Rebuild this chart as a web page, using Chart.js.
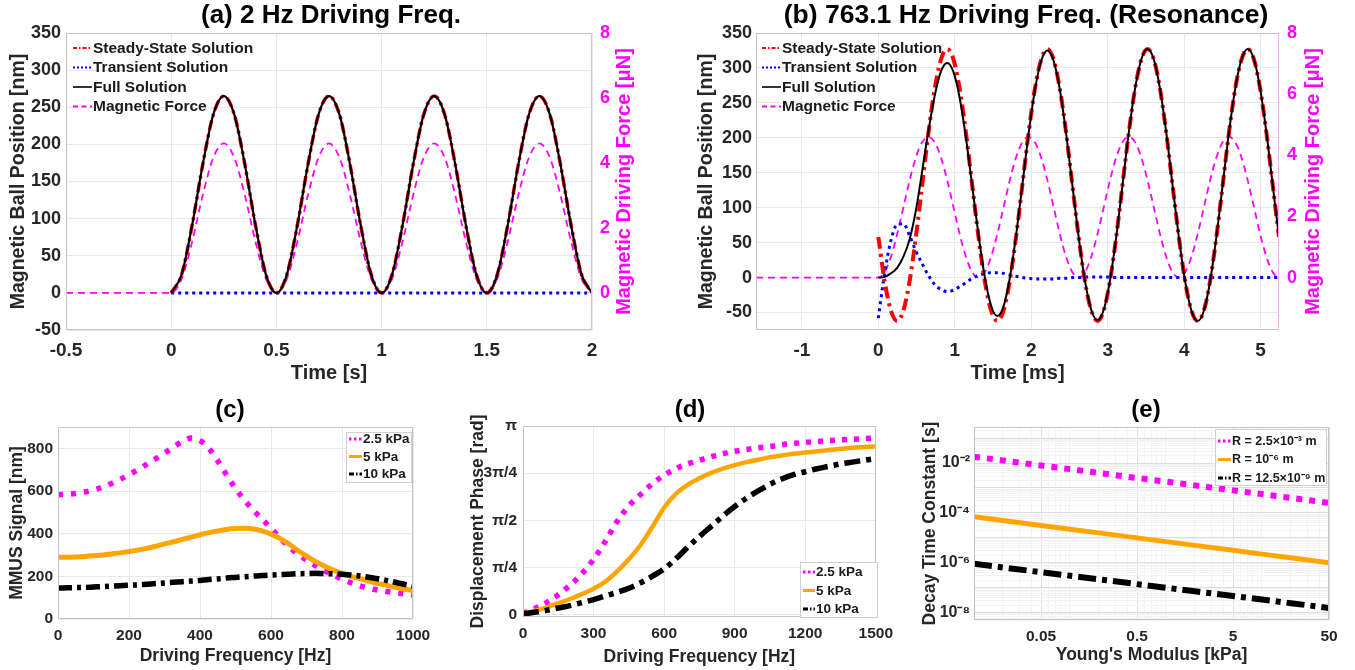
<!DOCTYPE html>
<html>
<head>
<meta charset="utf-8">
<script src="https://cdn.jsdelivr.net/npm/chart.js@4.4.1/dist/chart.umd.min.js"></script>
<style>
html, body { margin:0; padding:0; background:#ffffff; }
body { position:relative; width:1355px; height:670px; overflow:hidden; }
canvas { position:absolute; }
</style>
</head>
<body>
<canvas id="chartA" width="680" height="390" style="left:0px;top:0px;width:680px;height:390px"></canvas>
<canvas id="chartB" width="675" height="390" style="left:680px;top:0px;width:675px;height:390px"></canvas>
<canvas id="chartC" width="450" height="285" style="left:0px;top:385px;width:450px;height:285px"></canvas>
<canvas id="chartD" width="450" height="285" style="left:450px;top:385px;width:450px;height:285px"></canvas>
<canvas id="chartE" width="455" height="285" style="left:900px;top:385px;width:455px;height:285px"></canvas>
<script>
// ---------------- (a) 2 Hz driving frequency ----------------
const timeA = [0,0.05,0.1,0.15,0.2,0.25,0.3,0.35,0.4,0.45,0.5,0.55,0.6,0.65,0.7,0.75,0.8,0.85,0.9,0.95,1,1.05,1.1,1.15,1.2,1.25,1.3,1.35,1.4,1.45,1.5,1.55,1.6,1.65,1.7,1.75,1.8,1.85,1.9,1.95,2];
const steadyA = [0,25,92,173,240,265,240,173,92,25,0,25,92,173,240,265,240,173,92,25,0,25,92,173,240,265,240,173,92,25,0,25,92,173,240,265,240,173,92,25,0];
const transientA = [0,0,0,0,0,0,0,0,0,0,0,0,0,0,0,0,0,0,0,0,0,0,0,0,0,0,0,0,0,0,0,0,0,0,0,0,0,0,0,0,0];
const fullA = [0,25,92,173,240,265,240,173,92,25,0,25,92,173,240,265,240,173,92,25,0,25,92,173,240,265,240,173,92,25,0,25,92,173,240,265,240,173,92,25,0];
const forceTimeA = [-0.5,0,0.05,0.1,0.15,0.2,0.25,0.3,0.35,0.4,0.45,0.5,0.55,0.6,0.65,0.7,0.75,0.8,0.85,0.9,0.95,1,1.05,1.1,1.15,1.2,1.25,1.3,1.35,1.4,1.45,1.5,1.55,1.6,1.65,1.7,1.75,1.8,1.85,1.9,1.95,2];
const forceA = [0,0,0.44,1.59,3.01,4.16,4.6,4.16,3.01,1.59,0.44,0,0.44,1.59,3.01,4.16,4.6,4.16,3.01,1.59,0.44,0,0.44,1.59,3.01,4.16,4.6,4.16,3.01,1.59,0.44,0,0.44,1.59,3.01,4.16,4.6,4.16,3.01,1.59,0.44,0];
const xTicksA = [-0.5,0,0.5,1,1.5,2];
const yTicksA = [-50,0,50,100,150,200,250,300,350];
const forceTicks = [0,2,4,6,8];

// ---------------- (b) 763.1 Hz driving frequency ----------------
const timeB = [0,0.082,0.164,0.246,0.328,0.409,0.491,0.573,0.655,0.737,0.819,0.901,0.983,1.064,1.146,1.228,
  1.310,1.392,1.474,1.556,1.638,1.719,1.801,1.883,1.965,2.047,2.129,2.211,2.293,2.374,2.456,2.538,
  2.620,2.702,2.784,2.866,2.948,3.029,3.111,3.193,3.275,3.357,3.439,3.521,3.603,3.684,3.766,3.848,
  3.930,4.012,4.094,4.176,4.258,4.339,4.421,4.503,4.585,4.667,4.749,4.831,4.913,4.994,5.076,5.158,5.240];
const steadyB = [58,-5,-47,-62,-47,-5,58,132,207,270,312,327,312,270,207,132,
  58,-5,-47,-62,-47,-5,58,132,207,270,312,327,312,270,207,132,
  58,-5,-47,-62,-47,-5,58,132,207,270,312,327,312,270,207,132,
  58,-5,-47,-62,-47,-5,58,132,207,270,312,327,312,270,207,132,58];
const transientB = [-58,6,53,76,77,60,38,20,3,-10,-17,-20,-18,-13,-7,-1,
  3,6,7,7,6,4,2,0,-1,-2,-2,-2,-2,-1,-1,0,
  0,0.5,1,1,1,0.5,0,0,0,0,0,0,0,0,0,0,
  0,0,0,0,0,0,0,0,0,0,0,0,0,0,0,0,0];
const fullB = [0,1,6,14,30,55,96,152,210,260,295,307,294,257,200,131,
  61,1,-40,-55,-41,-1,60,132,206,268,310,325,310,269,206,132,
  58,-4.5,-46,-61,-46,-4.5,58,132,207,270,312,327,312,270,207,132,
  58,-5,-47,-62,-47,-5,58,132,207,270,312,327,312,270,207,132,58];
const forceTimeB = [-1.6,0,0.082,0.164,0.246,0.328,0.409,0.491,0.573,0.655,0.737,0.819,0.901,0.983,1.064,1.146,1.228,
  1.310,1.392,1.474,1.556,1.638,1.719,1.801,1.883,1.965,2.047,2.129,2.211,2.293,2.374,2.456,2.538,
  2.620,2.702,2.784,2.866,2.948,3.029,3.111,3.193,3.275,3.357,3.439,3.521,3.603,3.684,3.766,3.848,
  3.930,4.012,4.094,4.176,4.258,4.339,4.421,4.503,4.585,4.667,4.749,4.831,4.913,4.994,5.076,5.158,5.240];
const forceB = [0,0,0.175,0.674,1.42,2.3,3.18,3.93,4.43,4.6,4.43,3.93,3.18,2.3,1.42,0.674,0.175,
  0,0.175,0.674,1.42,2.3,3.18,3.93,4.43,4.6,4.43,3.93,3.18,2.3,1.42,0.674,0.175,
  0,0.175,0.674,1.42,2.3,3.18,3.93,4.43,4.6,4.43,3.93,3.18,2.3,1.42,0.674,0.175,
  0,0.175,0.674,1.42,2.3,3.18,3.93,4.43,4.6,4.43,3.93,3.18,2.3,1.42,0.674,0.175,0];
const xTicksB = [-1,0,1,2,3,4,5];
const yTicksB = [-50,0,50,100,150,200,250,300,350];

// ---------------- (c) MMUS signal ----------------
const freqC = [0,25,50,75,100,125,150,175,200,225,250,275,300,325,350,375,400,425,450,475,500,525,550,575,600,625,650,675,700,725,750,775,800,825,850,875,900,925,950,975,1000];
const mmus2_5 = [583,584,588,595,605,618,635,655,677,700,725,751,778,805,832,848,836,800,742,675,612,558,510,468,426,380,340,305,276,250,227,206,187,170,156,145,136,129,123,118,113];
const mmus5 = [290,290,291,293,296,300,305,310,316,323,331,341,352,362,373,384,395,405,413,420,424,425,422,413,398,378,352,322,295,270,249,230,214,200,189,178,167,158,149,141,133];
const mmus10 = [145,146,147,148,150,152,154,156,158,160,163,166,169,172,175,178,181,185,188,192,195,198,201,204,206,208,210,212,213,214,213,212,210,206,202,196,189,181,172,163,155];
const xTicksC = [0,200,400,600,800,1000];
const yTicksC = [0,200,400,600,800];

// ---------------- (d) displacement phase ----------------
const freqD = [0,50,100,150,200,250,300,350,400,450,500,550,600,650,700,750,800,850,900,950,1000,1050,1100,1150,1200,1250,1300,1350,1400,1450,1500];
const phase2_5 = [0.02,0.1,0.2,0.33,0.49,0.68,0.92,1.22,1.55,1.81,2.0,2.18,2.32,2.43,2.51,2.57,2.63,2.68,2.72,2.75,2.78,2.8,2.83,2.85,2.87,2.88,2.9,2.91,2.92,2.93,2.94];
const phase5 = [0.02,0.06,0.12,0.19,0.26,0.34,0.43,0.55,0.72,0.92,1.16,1.46,1.78,2.01,2.16,2.27,2.36,2.43,2.49,2.54,2.58,2.62,2.65,2.68,2.7,2.72,2.74,2.76,2.78,2.79,2.8];
const phase10 = [0.01,0.04,0.07,0.11,0.15,0.2,0.25,0.31,0.37,0.44,0.53,0.64,0.76,0.93,1.12,1.3,1.47,1.64,1.8,1.94,2.06,2.17,2.26,2.33,2.38,2.43,2.47,2.51,2.54,2.57,2.6];
const xTicksD = [0,300,600,900,1200,1500];
const phaseTickPi = [0,0.25,0.5,0.75,1];
const phaseTickLabels = ['0','π/4','π/2','3π/4','π'];

// ---------------- (e) decay time constant ----------------
const modulusE = [0.01,0.02,0.05,0.1,0.2,0.5,1,2,5,10,20,50];
const tauR2_5mm = [1.8e-2,1.27e-2,8.0e-3,5.7e-3,4.0e-3,2.5e-3,1.8e-3,1.27e-3,8.0e-4,5.7e-4,4.0e-4,2.5e-4];
const tauR1um = [7e-5,4.95e-5,3.13e-5,2.21e-5,1.57e-5,9.9e-6,7e-6,4.95e-6,3.13e-6,2.21e-6,1.57e-6,9.9e-7];
const tauR12_5nm = [9e-7,6.45e-7,4.15e-7,3.0e-7,2.15e-7,1.38e-7,9.9e-8,7.1e-8,4.6e-8,3.3e-8,2.37e-8,1.52e-8];
const xLabelsE = [0.05,0.5,5,50];
const yLabelExpE = [-8,-6,-4,-2];
const yLabelTextE = ['10⁻⁸','10⁻⁶','10⁻⁴','10⁻²'];

// ================= rendering =================
const FONT = "'Liberation Sans', Arial, Helvetica, sans-serif";
Chart.defaults.font.family = FONT;
Chart.defaults.font.weight = 'bold';
Chart.defaults.color = '#262626';
Chart.defaults.animation = false;
Chart.defaults.events = [];
Chart.defaults.plugins.legend.display = false;
Chart.defaults.plugins.tooltip.enabled = false;
Chart.defaults.elements.point.radius = 0;

const GRID = '#e8e8e8';
const BOX = '#c4c4c4';
const TXT = '#262626';

function pts(xs, ys) { return xs.map((x, i) => ({ x: x, y: ys[i] })); }

function axis(o) {
  return {
    type: o.type || 'linear',
    position: o.position,
    min: o.min, max: o.max,
    afterFit: s => { if (o.width !== undefined) s.width = o.width; if (o.height !== undefined) s.height = o.height; },
    afterBuildTicks: s => { s.ticks = o.ticks.map(v => ({ value: v })); },
    ticks: { autoSkip: false, maxRotation: 0, minRotation: 0, padding: o.pad, color: o.color || TXT,
      font: { size: o.fs }, callback: o.cb || (v => String(v)) },
    grid: { display: o.grid !== false, color: o.gridColor || GRID, drawTicks: false, lineWidth: 1 },
    border: { display: false },
    title: o.title ? { display: true, text: o.title, color: TXT, font: { size: o.tfs }, padding: o.tpad } : { display: false }
  };
}

const DECO = {};
const deco = {
  id: 'deco',
  afterDraw(chart) {
    const o = DECO[chart.canvas.id];
    if (!o) return;
    const ctx = chart.ctx, a = chart.chartArea;
    const L = Math.round(a.left) + 0.5, R = Math.round(a.right) - 0.5, T = Math.round(a.top) + 0.5, B = Math.round(a.bottom) - 0.5;
    ctx.save();
    ctx.setLineDash([]);
    ctx.lineWidth = 1;
    ctx.strokeStyle = BOX;
    ctx.beginPath();
    ctx.moveTo(R, T); ctx.lineTo(L, T); ctx.lineTo(L, B); ctx.lineTo(R, B);
    ctx.stroke();
    ctx.strokeStyle = o.rightColor || BOX;
    ctx.beginPath(); ctx.moveTo(R, T); ctx.lineTo(R, B); ctx.stroke();
    // chart title
    ctx.fillStyle = '#000';
    ctx.font = 'bold ' + o.titleSize + 'px ' + FONT;
    ctx.textAlign = 'center'; ctx.textBaseline = 'middle';
    ctx.fillText(o.title, o.titleX, o.titleY);
    // right axis title
    if (o.rightTitle) {
      ctx.save();
      ctx.translate(o.rightTitleX, (a.top + a.bottom) / 2);
      ctx.rotate(-Math.PI / 2);
      ctx.fillStyle = o.rightColorText;
      ctx.font = 'bold ' + o.rightTitleSize + 'px ' + FONT;
      ctx.textAlign = 'center'; ctx.textBaseline = 'middle';
      ctx.fillText(o.rightTitle, 0, 0);
      ctx.restore();
    }
    // legend
    const lg = o.legend;
    if (lg.box) {
      ctx.fillStyle = '#ffffff';
      ctx.fillRect(lg.box[0], lg.box[1], lg.box[2], lg.box[3]);
      ctx.strokeStyle = '#cfcfcf'; ctx.lineWidth = 1;
      ctx.strokeRect(lg.box[0] + 0.5, lg.box[1] + 0.5, lg.box[2] - 1, lg.box[3] - 1);
    }
    ctx.font = 'bold ' + lg.size + 'px ' + FONT;
    ctx.textAlign = 'left'; ctx.textBaseline = 'middle';
    lg.items.forEach((it, k) => {
      const ds = chart.data.datasets[it.ds];
      const y = lg.y + k * lg.rowH;
      ctx.strokeStyle = ds.borderColor;
      ctx.lineWidth = it.w;
      ctx.setLineDash(it.dash);
      ctx.beginPath(); ctx.moveTo(lg.x, y); ctx.lineTo(lg.x + lg.sample, y); ctx.stroke();
      ctx.setLineDash([]);
      ctx.fillStyle = '#1a1a1a';
      ctx.fillText(ds.label, lg.x + lg.sample + lg.gap, y + 0.5);
    });
    ctx.restore();
  }
};

const topLegendItems = [
  { ds: 0, w: 2, dash: [4, 2, 1.5, 2] },
  { ds: 1, w: 2, dash: [2, 2] },
  { ds: 2, w: 1.6, dash: [] },
  { ds: 3, w: 1.8, dash: [5, 3.5] }
];
const botLegendItems = [
  { ds: 0, w: 3, dash: [2.5, 2.5] },
  { ds: 1, w: 3, dash: [] },
  { ds: 2, w: 3, dash: [5, 2, 1.5, 2] }
];

// ---- chart (a) ----
DECO.chartA = {
  title: '(a) 2 Hz Driving Freq.', titleX: 331, titleY: 16, titleSize: 26,
  rightColor: '#f5b0f5', rightColorText: '#ff00ff', rightTitle: 'Magnetic Driving Force [μN]', rightTitleX: 624, rightTitleSize: 20,
  legend: { x: 73, y: 48, rowH: 19.5, sample: 19, gap: 1, size: 15.5, items: topLegendItems }
};
new Chart(document.getElementById('chartA'), {
  type: 'line',
  data: { datasets: [
    { label: 'Steady-State Solution', data: pts(timeA, steadyA), borderColor: '#ff0000', borderWidth: 3.5, borderDash: [10, 4, 3, 4], order: 1, yAxisID: 'y', cubicInterpolationMode: 'monotone' },
    { label: 'Transient Solution', data: pts(timeA, transientA), borderColor: '#0000ff', borderWidth: 3, borderDash: [3, 4], order: 2, yAxisID: 'y' },
    { label: 'Full Solution', data: pts(timeA, fullA), borderColor: '#000000', borderWidth: 2.2, order: 0, yAxisID: 'y', cubicInterpolationMode: 'monotone' },
    { label: 'Magnetic Force', data: pts(forceTimeA, forceA), borderColor: '#ff00ff', borderWidth: 1.8, borderDash: [7, 5], order: 3, yAxisID: 'y1', cubicInterpolationMode: 'monotone' }
  ]},
  options: {
    responsive: false,
    layout: { padding: { top: 33, left: 0, right: 0, bottom: 0 } },
    scales: {
      x: axis({ min: -0.5, max: 2, ticks: xTicksA, height: 60, pad: 9, fs: 19, title: 'Time [s]', tfs: 20, tpad: { top: 0, bottom: 5 } }),
      y: axis({ position: 'left', min: -50, max: 350, ticks: yTicksA, width: 66, pad: 5, fs: 18, title: 'Magnetic Ball Position [nm]', tfs: 19.5, tpad: { top: 7, bottom: 0 } }),
      y1: axis({ position: 'right', min: -50 / 43.75, max: 8, ticks: forceTicks, width: 88, pad: 8, fs: 18, color: '#ff00ff', grid: false })
    }
  },
  plugins: [deco]
});

// ---- chart (b) ----
DECO.chartB = {
  title: '(b) 763.1 Hz Driving Freq. (Resonance)', titleX: 346, titleY: 16, titleSize: 26.5,
  rightColor: '#f5b0f5', rightColorText: '#ff00ff', rightTitle: 'Magnetic Driving Force [μN]', rightTitleX: 633, rightTitleSize: 20,
  legend: { x: 82, y: 48, rowH: 19.5, sample: 19, gap: 1, size: 15.5, items: topLegendItems }
};
new Chart(document.getElementById('chartB'), {
  type: 'line',
  data: { datasets: [
    { label: 'Steady-State Solution', data: pts(timeB, steadyB), borderColor: '#ff0000', borderWidth: 4, borderDash: [12, 5, 3, 5], order: 1, yAxisID: 'y', cubicInterpolationMode: 'monotone' },
    { label: 'Transient Solution', data: pts(timeB, transientB), borderColor: '#0000ff', borderWidth: 3, borderDash: [3, 4], order: 2, yAxisID: 'y', cubicInterpolationMode: 'monotone' },
    { label: 'Full Solution', data: pts(timeB, fullB), borderColor: '#000000', borderWidth: 2, order: 0, yAxisID: 'y', cubicInterpolationMode: 'monotone' },
    { label: 'Magnetic Force', data: pts(forceTimeB, forceB), borderColor: '#ff00ff', borderWidth: 1.8, borderDash: [7, 5], order: 3, yAxisID: 'y1', cubicInterpolationMode: 'monotone' }
  ]},
  options: {
    responsive: false,
    layout: { padding: { top: 33, left: 0, right: 0, bottom: 0 } },
    scales: {
      x: axis({ min: -1.6, max: 5.24, ticks: xTicksB, height: 60, pad: 9, fs: 19, title: 'Time [ms]', tfs: 20, tpad: { top: 0, bottom: 5 } }),
      y: axis({ position: 'left', min: -75, max: 350, ticks: yTicksB, width: 76, pad: 4, fs: 18, title: 'Magnetic Ball Position [nm]', tfs: 19.5, tpad: { top: 15, bottom: 0 } }),
      y1: axis({ position: 'right', min: -75 / 43.75, max: 8, ticks: forceTicks, width: 76, pad: 8, fs: 18, color: '#ff00ff', grid: false })
    }
  },
  plugins: [deco]
});

// ---- chart (c) ----
DECO.chartC = {
  title: '(c)', titleX: 230, titleY: 25, titleSize: 24,
  legend: { x: 349, y: 54, rowH: 17.5, sample: 13, gap: 1, size: 13.5, items: botLegendItems, box: [346, 47, 66, 51] }
};
new Chart(document.getElementById('chartC'), {
  type: 'line',
  data: { datasets: [
    { label: '2.5 kPa', data: pts(freqC, mmus2_5), borderColor: '#ff00ff', borderWidth: 5.5, borderDash: [5, 8], order: 2, cubicInterpolationMode: 'monotone' },
    { label: '5 kPa', data: pts(freqC, mmus5), borderColor: '#ffa500', borderWidth: 5, order: 1, cubicInterpolationMode: 'monotone' },
    { label: '10 kPa', data: pts(freqC, mmus10), borderColor: '#000000', borderWidth: 5.5, borderDash: [14, 5, 4, 5], order: 0, cubicInterpolationMode: 'monotone' }
  ]},
  options: {
    responsive: false,
    layout: { padding: { top: 42, left: 0, right: 37, bottom: 0 } },
    scales: {
      x: axis({ min: 0, max: 1000, ticks: xTicksC, height: 51, pad: 7, fs: 15.5, title: 'Driving Frequency [Hz]', tfs: 17.5, tpad: { top: 0, bottom: 3.5 } }),
      y: axis({ position: 'left', min: 0, max: 900, ticks: yTicksC, width: 58, pad: 5, fs: 15.5, title: 'MMUS Signal [nm]', tfs: 17.5, tpad: { top: 6.5, bottom: 0 } })
    }
  },
  plugins: [deco]
});

// ---- chart (d) ----
DECO.chartD = {
  title: '(d)', titleX: 240, titleY: 25, titleSize: 24,
  legend: { x: 353, y: 187, rowH: 18.5, sample: 12, gap: 1, size: 13.5, items: botLegendItems, box: [350, 177, 78, 56] }
};
new Chart(document.getElementById('chartD'), {
  type: 'line',
  data: { datasets: [
    { label: '2.5 kPa', data: pts(freqD, phase2_5), borderColor: '#ff00ff', borderWidth: 5.5, borderDash: [5, 7], order: 2, cubicInterpolationMode: 'monotone' },
    { label: '5 kPa', data: pts(freqD, phase5), borderColor: '#ffa500', borderWidth: 4.5, order: 1, cubicInterpolationMode: 'monotone' },
    { label: '10 kPa', data: pts(freqD, phase10), borderColor: '#000000', borderWidth: 5.5, borderDash: [16, 6, 5, 6], order: 0, cubicInterpolationMode: 'monotone' }
  ]},
  options: {
    responsive: false,
    layout: { padding: { top: 41, left: 0, right: 23, bottom: 0 } },
    scales: {
      x: axis({ min: 0, max: 1500, ticks: xTicksD, height: 53, pad: 7, fs: 15.5, title: 'Driving Frequency [Hz]', tfs: 17.5, tpad: { top: 0, bottom: 2.5 } }),
      y: axis({ position: 'left', min: -0.04, max: Math.PI, ticks: phaseTickPi.map(v => v * Math.PI), width: 73, pad: 6, fs: 15.5,
        cb: (v, i) => phaseTickLabels[i], title: 'Displacement Phase [rad]', tfs: 17.5, tpad: { top: 17.5, bottom: 0 } })
    }
  },
  plugins: [deco]
});

// ---- chart (e) ----
function logGridTicks(lo, hi) {
  const out = [];
  for (let e = -10; e <= 3; e++) {
    for (let m = 1; m <= 9; m++) {
      const v = m * Math.pow(10, e);
      if (v >= lo * 0.9999 && v <= hi * 1.0001) out.push(v);
    }
  }
  return out;
}
function near(a, b) { return Math.abs(Math.log10(a) - Math.log10(b)) < 1e-6; }
DECO.chartE = {
  title: '(e)', titleX: 246, titleY: 25, titleSize: 24,
  legend: { x: 318, y: 56, rowH: 18.5, sample: 13, gap: 1, size: 12.5, items: botLegendItems, box: [315, 44, 112, 57] }
};
new Chart(document.getElementById('chartE'), {
  type: 'line',
  data: { datasets: [
    { label: 'R = 2.5×10⁻³ m', data: pts(modulusE, tauR2_5mm), borderColor: '#ff00ff', borderWidth: 6, borderDash: [6, 7], order: 2 },
    { label: 'R = 10⁻⁶ m', data: pts(modulusE, tauR1um), borderColor: '#ffa500', borderWidth: 5, order: 1 },
    { label: 'R = 12.5×10⁻⁹ m', data: pts(modulusE, tauR12_5nm), borderColor: '#000000', borderWidth: 6, borderDash: [18, 6, 5, 6], order: 0 }
  ]},
  options: {
    responsive: false,
    layout: { padding: { top: 42, left: 0, right: 26, bottom: 0 } },
    scales: {
      x: axis({ type: 'logarithmic', min: 0.01, max: 50, ticks: logGridTicks(0.01, 50), height: 50, pad: 7, fs: 15.5,
        cb: v => { const k = xLabelsE.findIndex(t => near(t, v)); return k >= 0 ? String(xLabelsE[k]) : ''; },
        gridColor: c => (xLabelsE.some(t => near(t, c.tick.value)) ? '#dcdcdc' : '#f3f3f3'),
        title: "Young's Modulus [kPa]", tfs: 17.5, tpad: { top: 0, bottom: 4.5 } }),
      y: axis({ type: 'logarithmic', position: 'left', min: 5e-9, max: 0.28, ticks: logGridTicks(5e-9, 0.28), width: 74, pad: 4, fs: 16,
        cb: v => { const k = yLabelExpE.findIndex(e => near(Math.pow(10, e), v)); return k >= 0 ? yLabelTextE[k] : ''; },
        gridColor: c => { const lg = Math.log10(c.tick.value); return Math.abs(lg - Math.round(lg)) < 1e-6 ? '#dcdcdc' : '#f3f3f3'; },
        title: 'Decay Time Constant [s]', tfs: 17.5, tpad: { top: 19.5, bottom: 0 } })
    }
  },
  plugins: [deco]
});
</script>
</body>
</html>
